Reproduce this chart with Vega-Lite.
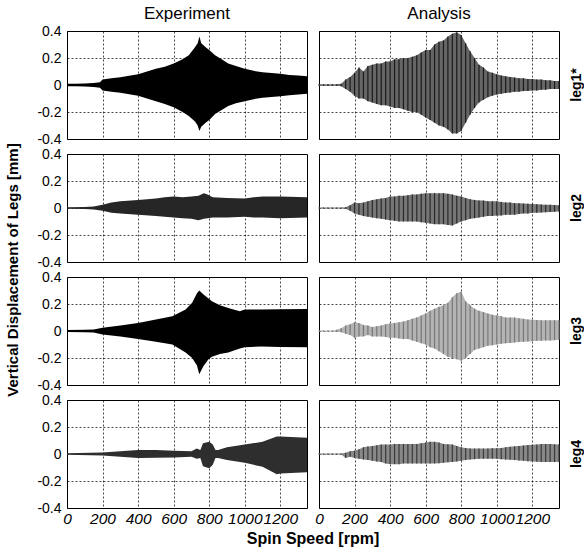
{
"$schema": "https://vega.github.io/schema/vega-lite/v6.json",
"background": "white",
"padding": {"left": 5, "top": 5, "right": 0, "bottom": 0},
"data": {"values": [
{"type":"Experiment","leg":"leg1*","rpm":0,"hi":0.01,"lo":-0.01},
{"type":"Experiment","leg":"leg1*","rpm":50,"hi":0.01,"lo":-0.01},
{"type":"Experiment","leg":"leg1*","rpm":100,"hi":0.012,"lo":-0.012},
{"type":"Experiment","leg":"leg1*","rpm":150,"hi":0.015,"lo":-0.015},
{"type":"Experiment","leg":"leg1*","rpm":185,"hi":0.02,"lo":-0.02},
{"type":"Experiment","leg":"leg1*","rpm":200,"hi":0.04,"lo":-0.04},
{"type":"Experiment","leg":"leg1*","rpm":250,"hi":0.05,"lo":-0.05},
{"type":"Experiment","leg":"leg1*","rpm":300,"hi":0.058,"lo":-0.058},
{"type":"Experiment","leg":"leg1*","rpm":350,"hi":0.068,"lo":-0.068},
{"type":"Experiment","leg":"leg1*","rpm":400,"hi":0.08,"lo":-0.08},
{"type":"Experiment","leg":"leg1*","rpm":450,"hi":0.1,"lo":-0.1},
{"type":"Experiment","leg":"leg1*","rpm":500,"hi":0.12,"lo":-0.12},
{"type":"Experiment","leg":"leg1*","rpm":550,"hi":0.135,"lo":-0.14},
{"type":"Experiment","leg":"leg1*","rpm":600,"hi":0.16,"lo":-0.165},
{"type":"Experiment","leg":"leg1*","rpm":650,"hi":0.19,"lo":-0.2},
{"type":"Experiment","leg":"leg1*","rpm":685,"hi":0.22,"lo":-0.23},
{"type":"Experiment","leg":"leg1*","rpm":720,"hi":0.28,"lo":-0.27},
{"type":"Experiment","leg":"leg1*","rpm":735,"hi":0.31,"lo":-0.3},
{"type":"Experiment","leg":"leg1*","rpm":745,"hi":0.36,"lo":-0.34},
{"type":"Experiment","leg":"leg1*","rpm":755,"hi":0.31,"lo":-0.31},
{"type":"Experiment","leg":"leg1*","rpm":780,"hi":0.28,"lo":-0.28},
{"type":"Experiment","leg":"leg1*","rpm":800,"hi":0.26,"lo":-0.26},
{"type":"Experiment","leg":"leg1*","rpm":833,"hi":0.22,"lo":-0.215},
{"type":"Experiment","leg":"leg1*","rpm":870,"hi":0.19,"lo":-0.185},
{"type":"Experiment","leg":"leg1*","rpm":907,"hi":0.16,"lo":-0.155},
{"type":"Experiment","leg":"leg1*","rpm":950,"hi":0.14,"lo":-0.135},
{"type":"Experiment","leg":"leg1*","rpm":1000,"hi":0.12,"lo":-0.12},
{"type":"Experiment","leg":"leg1*","rpm":1050,"hi":0.105,"lo":-0.105},
{"type":"Experiment","leg":"leg1*","rpm":1100,"hi":0.095,"lo":-0.095},
{"type":"Experiment","leg":"leg1*","rpm":1150,"hi":0.088,"lo":-0.088},
{"type":"Experiment","leg":"leg1*","rpm":1200,"hi":0.083,"lo":-0.083},
{"type":"Experiment","leg":"leg1*","rpm":1250,"hi":0.075,"lo":-0.075},
{"type":"Experiment","leg":"leg1*","rpm":1300,"hi":0.07,"lo":-0.07},
{"type":"Experiment","leg":"leg1*","rpm":1350,"hi":0.065,"lo":-0.065},
{"type":"Experiment","leg":"leg2","rpm":0,"hi":0.005,"lo":-0.005},
{"type":"Experiment","leg":"leg2","rpm":100,"hi":0.008,"lo":-0.008},
{"type":"Experiment","leg":"leg2","rpm":150,"hi":0.012,"lo":-0.012},
{"type":"Experiment","leg":"leg2","rpm":200,"hi":0.025,"lo":-0.02},
{"type":"Experiment","leg":"leg2","rpm":250,"hi":0.04,"lo":-0.035},
{"type":"Experiment","leg":"leg2","rpm":300,"hi":0.05,"lo":-0.04},
{"type":"Experiment","leg":"leg2","rpm":400,"hi":0.06,"lo":-0.05},
{"type":"Experiment","leg":"leg2","rpm":500,"hi":0.07,"lo":-0.06},
{"type":"Experiment","leg":"leg2","rpm":550,"hi":0.08,"lo":-0.065},
{"type":"Experiment","leg":"leg2","rpm":600,"hi":0.085,"lo":-0.07},
{"type":"Experiment","leg":"leg2","rpm":650,"hi":0.08,"lo":-0.075},
{"type":"Experiment","leg":"leg2","rpm":700,"hi":0.085,"lo":-0.08},
{"type":"Experiment","leg":"leg2","rpm":740,"hi":0.09,"lo":-0.09},
{"type":"Experiment","leg":"leg2","rpm":770,"hi":0.11,"lo":-0.08},
{"type":"Experiment","leg":"leg2","rpm":790,"hi":0.1,"lo":-0.075},
{"type":"Experiment","leg":"leg2","rpm":820,"hi":0.08,"lo":-0.07},
{"type":"Experiment","leg":"leg2","rpm":900,"hi":0.075,"lo":-0.07},
{"type":"Experiment","leg":"leg2","rpm":1000,"hi":0.07,"lo":-0.065},
{"type":"Experiment","leg":"leg2","rpm":1050,"hi":0.08,"lo":-0.07},
{"type":"Experiment","leg":"leg2","rpm":1100,"hi":0.085,"lo":-0.07},
{"type":"Experiment","leg":"leg2","rpm":1200,"hi":0.085,"lo":-0.075},
{"type":"Experiment","leg":"leg2","rpm":1350,"hi":0.08,"lo":-0.07},
{"type":"Experiment","leg":"leg3","rpm":0,"hi":0.008,"lo":-0.008},
{"type":"Experiment","leg":"leg3","rpm":100,"hi":0.01,"lo":-0.01},
{"type":"Experiment","leg":"leg3","rpm":150,"hi":0.012,"lo":-0.012},
{"type":"Experiment","leg":"leg3","rpm":200,"hi":0.025,"lo":-0.025},
{"type":"Experiment","leg":"leg3","rpm":300,"hi":0.04,"lo":-0.04},
{"type":"Experiment","leg":"leg3","rpm":400,"hi":0.06,"lo":-0.06},
{"type":"Experiment","leg":"leg3","rpm":500,"hi":0.085,"lo":-0.08},
{"type":"Experiment","leg":"leg3","rpm":593,"hi":0.11,"lo":-0.1},
{"type":"Experiment","leg":"leg3","rpm":667,"hi":0.16,"lo":-0.16},
{"type":"Experiment","leg":"leg3","rpm":704,"hi":0.21,"lo":-0.2},
{"type":"Experiment","leg":"leg3","rpm":731,"hi":0.28,"lo":-0.255},
{"type":"Experiment","leg":"leg3","rpm":744,"hi":0.3,"lo":-0.32},
{"type":"Experiment","leg":"leg3","rpm":768,"hi":0.27,"lo":-0.26},
{"type":"Experiment","leg":"leg3","rpm":796,"hi":0.24,"lo":-0.21},
{"type":"Experiment","leg":"leg3","rpm":815,"hi":0.22,"lo":-0.19},
{"type":"Experiment","leg":"leg3","rpm":860,"hi":0.19,"lo":-0.17},
{"type":"Experiment","leg":"leg3","rpm":907,"hi":0.17,"lo":-0.16},
{"type":"Experiment","leg":"leg3","rpm":972,"hi":0.146,"lo":-0.13},
{"type":"Experiment","leg":"leg3","rpm":1000,"hi":0.16,"lo":-0.12},
{"type":"Experiment","leg":"leg3","rpm":1093,"hi":0.16,"lo":-0.115},
{"type":"Experiment","leg":"leg3","rpm":1200,"hi":0.162,"lo":-0.118},
{"type":"Experiment","leg":"leg3","rpm":1350,"hi":0.163,"lo":-0.12},
{"type":"Experiment","leg":"leg4","rpm":0,"hi":0.005,"lo":-0.005},
{"type":"Experiment","leg":"leg4","rpm":200,"hi":0.012,"lo":-0.012},
{"type":"Experiment","leg":"leg4","rpm":300,"hi":0.02,"lo":-0.02},
{"type":"Experiment","leg":"leg4","rpm":400,"hi":0.03,"lo":-0.03},
{"type":"Experiment","leg":"leg4","rpm":500,"hi":0.03,"lo":-0.028},
{"type":"Experiment","leg":"leg4","rpm":600,"hi":0.025,"lo":-0.025},
{"type":"Experiment","leg":"leg4","rpm":700,"hi":0.02,"lo":-0.02},
{"type":"Experiment","leg":"leg4","rpm":730,"hi":0.04,"lo":-0.035},
{"type":"Experiment","leg":"leg4","rpm":750,"hi":0.03,"lo":-0.03},
{"type":"Experiment","leg":"leg4","rpm":765,"hi":0.08,"lo":-0.09},
{"type":"Experiment","leg":"leg4","rpm":800,"hi":0.09,"lo":-0.105},
{"type":"Experiment","leg":"leg4","rpm":820,"hi":0.07,"lo":-0.08},
{"type":"Experiment","leg":"leg4","rpm":835,"hi":0.03,"lo":-0.03},
{"type":"Experiment","leg":"leg4","rpm":850,"hi":0.03,"lo":-0.03},
{"type":"Experiment","leg":"leg4","rpm":900,"hi":0.05,"lo":-0.045},
{"type":"Experiment","leg":"leg4","rpm":1000,"hi":0.07,"lo":-0.065},
{"type":"Experiment","leg":"leg4","rpm":1100,"hi":0.09,"lo":-0.095},
{"type":"Experiment","leg":"leg4","rpm":1180,"hi":0.13,"lo":-0.15},
{"type":"Experiment","leg":"leg4","rpm":1200,"hi":0.13,"lo":-0.145},
{"type":"Experiment","leg":"leg4","rpm":1350,"hi":0.12,"lo":-0.135},
{"type":"Analysis","leg":"leg1*","rpm":0,"hi":0.005,"lo":-0.005},
{"type":"Analysis","leg":"leg1*","rpm":25,"hi":0.005,"lo":-0.005},
{"type":"Analysis","leg":"leg1*","rpm":50,"hi":0.005,"lo":-0.005},
{"type":"Analysis","leg":"leg1*","rpm":75,"hi":0.005,"lo":-0.005},
{"type":"Analysis","leg":"leg1*","rpm":100,"hi":0.006,"lo":-0.006},
{"type":"Analysis","leg":"leg1*","rpm":125,"hi":0.01,"lo":-0.01},
{"type":"Analysis","leg":"leg1*","rpm":150,"hi":0.04,"lo":-0.03},
{"type":"Analysis","leg":"leg1*","rpm":175,"hi":0.06,"lo":-0.05},
{"type":"Analysis","leg":"leg1*","rpm":200,"hi":0.09,"lo":-0.08},
{"type":"Analysis","leg":"leg1*","rpm":225,"hi":0.13,"lo":-0.1},
{"type":"Analysis","leg":"leg1*","rpm":250,"hi":0.1,"lo":-0.1},
{"type":"Analysis","leg":"leg1*","rpm":275,"hi":0.14,"lo":-0.12},
{"type":"Analysis","leg":"leg1*","rpm":300,"hi":0.15,"lo":-0.13},
{"type":"Analysis","leg":"leg1*","rpm":325,"hi":0.16,"lo":-0.14},
{"type":"Analysis","leg":"leg1*","rpm":350,"hi":0.16,"lo":-0.15},
{"type":"Analysis","leg":"leg1*","rpm":375,"hi":0.175,"lo":-0.15},
{"type":"Analysis","leg":"leg1*","rpm":400,"hi":0.175,"lo":-0.16},
{"type":"Analysis","leg":"leg1*","rpm":425,"hi":0.19,"lo":-0.17},
{"type":"Analysis","leg":"leg1*","rpm":450,"hi":0.19,"lo":-0.17},
{"type":"Analysis","leg":"leg1*","rpm":475,"hi":0.2,"lo":-0.18},
{"type":"Analysis","leg":"leg1*","rpm":500,"hi":0.2,"lo":-0.19},
{"type":"Analysis","leg":"leg1*","rpm":525,"hi":0.21,"lo":-0.2},
{"type":"Analysis","leg":"leg1*","rpm":550,"hi":0.22,"lo":-0.2},
{"type":"Analysis","leg":"leg1*","rpm":575,"hi":0.24,"lo":-0.22},
{"type":"Analysis","leg":"leg1*","rpm":600,"hi":0.26,"lo":-0.24},
{"type":"Analysis","leg":"leg1*","rpm":625,"hi":0.26,"lo":-0.26},
{"type":"Analysis","leg":"leg1*","rpm":650,"hi":0.3,"lo":-0.28},
{"type":"Analysis","leg":"leg1*","rpm":675,"hi":0.32,"lo":-0.3},
{"type":"Analysis","leg":"leg1*","rpm":700,"hi":0.33,"lo":-0.31},
{"type":"Analysis","leg":"leg1*","rpm":725,"hi":0.36,"lo":-0.33},
{"type":"Analysis","leg":"leg1*","rpm":750,"hi":0.38,"lo":-0.36},
{"type":"Analysis","leg":"leg1*","rpm":775,"hi":0.39,"lo":-0.36},
{"type":"Analysis","leg":"leg1*","rpm":800,"hi":0.37,"lo":-0.34},
{"type":"Analysis","leg":"leg1*","rpm":825,"hi":0.31,"lo":-0.28},
{"type":"Analysis","leg":"leg1*","rpm":850,"hi":0.25,"lo":-0.22},
{"type":"Analysis","leg":"leg1*","rpm":875,"hi":0.2,"lo":-0.17},
{"type":"Analysis","leg":"leg1*","rpm":900,"hi":0.15,"lo":-0.13},
{"type":"Analysis","leg":"leg1*","rpm":925,"hi":0.13,"lo":-0.11},
{"type":"Analysis","leg":"leg1*","rpm":950,"hi":0.1,"lo":-0.09},
{"type":"Analysis","leg":"leg1*","rpm":975,"hi":0.09,"lo":-0.08},
{"type":"Analysis","leg":"leg1*","rpm":1000,"hi":0.08,"lo":-0.07},
{"type":"Analysis","leg":"leg1*","rpm":1025,"hi":0.07,"lo":-0.065},
{"type":"Analysis","leg":"leg1*","rpm":1050,"hi":0.065,"lo":-0.06},
{"type":"Analysis","leg":"leg1*","rpm":1075,"hi":0.06,"lo":-0.055},
{"type":"Analysis","leg":"leg1*","rpm":1100,"hi":0.055,"lo":-0.05},
{"type":"Analysis","leg":"leg1*","rpm":1125,"hi":0.05,"lo":-0.05},
{"type":"Analysis","leg":"leg1*","rpm":1150,"hi":0.05,"lo":-0.045},
{"type":"Analysis","leg":"leg1*","rpm":1175,"hi":0.045,"lo":-0.045},
{"type":"Analysis","leg":"leg1*","rpm":1200,"hi":0.045,"lo":-0.04},
{"type":"Analysis","leg":"leg1*","rpm":1225,"hi":0.04,"lo":-0.04},
{"type":"Analysis","leg":"leg1*","rpm":1250,"hi":0.04,"lo":-0.035},
{"type":"Analysis","leg":"leg1*","rpm":1275,"hi":0.035,"lo":-0.035},
{"type":"Analysis","leg":"leg1*","rpm":1300,"hi":0.035,"lo":-0.03},
{"type":"Analysis","leg":"leg1*","rpm":1325,"hi":0.03,"lo":-0.03},
{"type":"Analysis","leg":"leg1*","rpm":1350,"hi":0.03,"lo":-0.03},
{"type":"Analysis","leg":"leg2","rpm":0,"hi":0.004,"lo":-0.004},
{"type":"Analysis","leg":"leg2","rpm":25,"hi":0.004,"lo":-0.004},
{"type":"Analysis","leg":"leg2","rpm":50,"hi":0.004,"lo":-0.004},
{"type":"Analysis","leg":"leg2","rpm":75,"hi":0.004,"lo":-0.004},
{"type":"Analysis","leg":"leg2","rpm":100,"hi":0.004,"lo":-0.004},
{"type":"Analysis","leg":"leg2","rpm":125,"hi":0.004,"lo":-0.004},
{"type":"Analysis","leg":"leg2","rpm":150,"hi":0.006,"lo":-0.006},
{"type":"Analysis","leg":"leg2","rpm":175,"hi":0.02,"lo":-0.02},
{"type":"Analysis","leg":"leg2","rpm":200,"hi":0.04,"lo":-0.04},
{"type":"Analysis","leg":"leg2","rpm":225,"hi":0.035,"lo":-0.05},
{"type":"Analysis","leg":"leg2","rpm":250,"hi":0.04,"lo":-0.06},
{"type":"Analysis","leg":"leg2","rpm":275,"hi":0.05,"lo":-0.065},
{"type":"Analysis","leg":"leg2","rpm":300,"hi":0.06,"lo":-0.07},
{"type":"Analysis","leg":"leg2","rpm":325,"hi":0.065,"lo":-0.075},
{"type":"Analysis","leg":"leg2","rpm":350,"hi":0.07,"lo":-0.08},
{"type":"Analysis","leg":"leg2","rpm":375,"hi":0.075,"lo":-0.085},
{"type":"Analysis","leg":"leg2","rpm":400,"hi":0.085,"lo":-0.09},
{"type":"Analysis","leg":"leg2","rpm":425,"hi":0.085,"lo":-0.095},
{"type":"Analysis","leg":"leg2","rpm":450,"hi":0.09,"lo":-0.1},
{"type":"Analysis","leg":"leg2","rpm":475,"hi":0.09,"lo":-0.1},
{"type":"Analysis","leg":"leg2","rpm":500,"hi":0.095,"lo":-0.1},
{"type":"Analysis","leg":"leg2","rpm":525,"hi":0.1,"lo":-0.1},
{"type":"Analysis","leg":"leg2","rpm":550,"hi":0.1,"lo":-0.1},
{"type":"Analysis","leg":"leg2","rpm":575,"hi":0.105,"lo":-0.105},
{"type":"Analysis","leg":"leg2","rpm":600,"hi":0.11,"lo":-0.11},
{"type":"Analysis","leg":"leg2","rpm":625,"hi":0.11,"lo":-0.115},
{"type":"Analysis","leg":"leg2","rpm":650,"hi":0.11,"lo":-0.12},
{"type":"Analysis","leg":"leg2","rpm":675,"hi":0.11,"lo":-0.12},
{"type":"Analysis","leg":"leg2","rpm":700,"hi":0.11,"lo":-0.12},
{"type":"Analysis","leg":"leg2","rpm":725,"hi":0.105,"lo":-0.125},
{"type":"Analysis","leg":"leg2","rpm":750,"hi":0.1,"lo":-0.13},
{"type":"Analysis","leg":"leg2","rpm":775,"hi":0.09,"lo":-0.115},
{"type":"Analysis","leg":"leg2","rpm":800,"hi":0.085,"lo":-0.1},
{"type":"Analysis","leg":"leg2","rpm":825,"hi":0.075,"lo":-0.09},
{"type":"Analysis","leg":"leg2","rpm":850,"hi":0.065,"lo":-0.08},
{"type":"Analysis","leg":"leg2","rpm":875,"hi":0.06,"lo":-0.075},
{"type":"Analysis","leg":"leg2","rpm":900,"hi":0.055,"lo":-0.07},
{"type":"Analysis","leg":"leg2","rpm":925,"hi":0.055,"lo":-0.065},
{"type":"Analysis","leg":"leg2","rpm":950,"hi":0.05,"lo":-0.06},
{"type":"Analysis","leg":"leg2","rpm":975,"hi":0.05,"lo":-0.06},
{"type":"Analysis","leg":"leg2","rpm":1000,"hi":0.05,"lo":-0.055},
{"type":"Analysis","leg":"leg2","rpm":1025,"hi":0.045,"lo":-0.055},
{"type":"Analysis","leg":"leg2","rpm":1050,"hi":0.04,"lo":-0.05},
{"type":"Analysis","leg":"leg2","rpm":1075,"hi":0.04,"lo":-0.05},
{"type":"Analysis","leg":"leg2","rpm":1100,"hi":0.036,"lo":-0.05},
{"type":"Analysis","leg":"leg2","rpm":1125,"hi":0.035,"lo":-0.045},
{"type":"Analysis","leg":"leg2","rpm":1150,"hi":0.033,"lo":-0.04},
{"type":"Analysis","leg":"leg2","rpm":1175,"hi":0.032,"lo":-0.04},
{"type":"Analysis","leg":"leg2","rpm":1200,"hi":0.03,"lo":-0.036},
{"type":"Analysis","leg":"leg2","rpm":1225,"hi":0.028,"lo":-0.035},
{"type":"Analysis","leg":"leg2","rpm":1250,"hi":0.026,"lo":-0.033},
{"type":"Analysis","leg":"leg2","rpm":1275,"hi":0.025,"lo":-0.032},
{"type":"Analysis","leg":"leg2","rpm":1300,"hi":0.024,"lo":-0.03},
{"type":"Analysis","leg":"leg2","rpm":1325,"hi":0.022,"lo":-0.028},
{"type":"Analysis","leg":"leg2","rpm":1350,"hi":0.02,"lo":-0.025},
{"type":"Analysis","leg":"leg3","rpm":0,"hi":0.004,"lo":-0.004},
{"type":"Analysis","leg":"leg3","rpm":25,"hi":0.004,"lo":-0.004},
{"type":"Analysis","leg":"leg3","rpm":50,"hi":0.004,"lo":-0.004},
{"type":"Analysis","leg":"leg3","rpm":75,"hi":0.004,"lo":-0.004},
{"type":"Analysis","leg":"leg3","rpm":100,"hi":0.01,"lo":-0.005},
{"type":"Analysis","leg":"leg3","rpm":125,"hi":0.02,"lo":-0.01},
{"type":"Analysis","leg":"leg3","rpm":150,"hi":0.04,"lo":-0.02},
{"type":"Analysis","leg":"leg3","rpm":175,"hi":0.05,"lo":-0.03},
{"type":"Analysis","leg":"leg3","rpm":200,"hi":0.065,"lo":-0.05},
{"type":"Analysis","leg":"leg3","rpm":225,"hi":0.06,"lo":-0.04},
{"type":"Analysis","leg":"leg3","rpm":250,"hi":0.045,"lo":-0.04},
{"type":"Analysis","leg":"leg3","rpm":275,"hi":0.04,"lo":-0.03},
{"type":"Analysis","leg":"leg3","rpm":300,"hi":0.03,"lo":-0.04},
{"type":"Analysis","leg":"leg3","rpm":325,"hi":0.035,"lo":-0.04},
{"type":"Analysis","leg":"leg3","rpm":350,"hi":0.04,"lo":-0.04},
{"type":"Analysis","leg":"leg3","rpm":375,"hi":0.05,"lo":-0.045},
{"type":"Analysis","leg":"leg3","rpm":400,"hi":0.055,"lo":-0.05},
{"type":"Analysis","leg":"leg3","rpm":425,"hi":0.06,"lo":-0.05},
{"type":"Analysis","leg":"leg3","rpm":450,"hi":0.065,"lo":-0.055},
{"type":"Analysis","leg":"leg3","rpm":475,"hi":0.07,"lo":-0.06},
{"type":"Analysis","leg":"leg3","rpm":500,"hi":0.08,"lo":-0.06},
{"type":"Analysis","leg":"leg3","rpm":525,"hi":0.09,"lo":-0.07},
{"type":"Analysis","leg":"leg3","rpm":550,"hi":0.1,"lo":-0.08},
{"type":"Analysis","leg":"leg3","rpm":575,"hi":0.115,"lo":-0.09},
{"type":"Analysis","leg":"leg3","rpm":600,"hi":0.13,"lo":-0.1},
{"type":"Analysis","leg":"leg3","rpm":625,"hi":0.15,"lo":-0.12},
{"type":"Analysis","leg":"leg3","rpm":650,"hi":0.165,"lo":-0.13},
{"type":"Analysis","leg":"leg3","rpm":675,"hi":0.18,"lo":-0.15},
{"type":"Analysis","leg":"leg3","rpm":700,"hi":0.19,"lo":-0.17},
{"type":"Analysis","leg":"leg3","rpm":725,"hi":0.21,"lo":-0.19},
{"type":"Analysis","leg":"leg3","rpm":750,"hi":0.25,"lo":-0.2},
{"type":"Analysis","leg":"leg3","rpm":775,"hi":0.28,"lo":-0.21},
{"type":"Analysis","leg":"leg3","rpm":800,"hi":0.29,"lo":-0.22},
{"type":"Analysis","leg":"leg3","rpm":825,"hi":0.22,"lo":-0.2},
{"type":"Analysis","leg":"leg3","rpm":850,"hi":0.19,"lo":-0.17},
{"type":"Analysis","leg":"leg3","rpm":875,"hi":0.165,"lo":-0.14},
{"type":"Analysis","leg":"leg3","rpm":900,"hi":0.15,"lo":-0.13},
{"type":"Analysis","leg":"leg3","rpm":925,"hi":0.14,"lo":-0.12},
{"type":"Analysis","leg":"leg3","rpm":950,"hi":0.13,"lo":-0.11},
{"type":"Analysis","leg":"leg3","rpm":975,"hi":0.12,"lo":-0.105},
{"type":"Analysis","leg":"leg3","rpm":1000,"hi":0.115,"lo":-0.1},
{"type":"Analysis","leg":"leg3","rpm":1025,"hi":0.11,"lo":-0.095},
{"type":"Analysis","leg":"leg3","rpm":1050,"hi":0.1,"lo":-0.09},
{"type":"Analysis","leg":"leg3","rpm":1075,"hi":0.1,"lo":-0.088},
{"type":"Analysis","leg":"leg3","rpm":1100,"hi":0.1,"lo":-0.085},
{"type":"Analysis","leg":"leg3","rpm":1125,"hi":0.095,"lo":-0.082},
{"type":"Analysis","leg":"leg3","rpm":1150,"hi":0.09,"lo":-0.08},
{"type":"Analysis","leg":"leg3","rpm":1175,"hi":0.085,"lo":-0.078},
{"type":"Analysis","leg":"leg3","rpm":1200,"hi":0.083,"lo":-0.075},
{"type":"Analysis","leg":"leg3","rpm":1225,"hi":0.082,"lo":-0.073},
{"type":"Analysis","leg":"leg3","rpm":1250,"hi":0.08,"lo":-0.072},
{"type":"Analysis","leg":"leg3","rpm":1275,"hi":0.08,"lo":-0.07},
{"type":"Analysis","leg":"leg3","rpm":1300,"hi":0.08,"lo":-0.07},
{"type":"Analysis","leg":"leg3","rpm":1325,"hi":0.08,"lo":-0.068},
{"type":"Analysis","leg":"leg3","rpm":1350,"hi":0.08,"lo":-0.065},
{"type":"Analysis","leg":"leg4","rpm":0,"hi":0.003,"lo":-0.003},
{"type":"Analysis","leg":"leg4","rpm":25,"hi":0.003,"lo":-0.003},
{"type":"Analysis","leg":"leg4","rpm":50,"hi":0.003,"lo":-0.003},
{"type":"Analysis","leg":"leg4","rpm":75,"hi":0.003,"lo":-0.003},
{"type":"Analysis","leg":"leg4","rpm":100,"hi":0.003,"lo":-0.003},
{"type":"Analysis","leg":"leg4","rpm":125,"hi":0.003,"lo":-0.003},
{"type":"Analysis","leg":"leg4","rpm":150,"hi":0.01,"lo":-0.03},
{"type":"Analysis","leg":"leg4","rpm":175,"hi":0.02,"lo":-0.02},
{"type":"Analysis","leg":"leg4","rpm":200,"hi":0.025,"lo":-0.03},
{"type":"Analysis","leg":"leg4","rpm":225,"hi":0.035,"lo":-0.035},
{"type":"Analysis","leg":"leg4","rpm":250,"hi":0.05,"lo":-0.04},
{"type":"Analysis","leg":"leg4","rpm":275,"hi":0.055,"lo":-0.045},
{"type":"Analysis","leg":"leg4","rpm":300,"hi":0.06,"lo":-0.05},
{"type":"Analysis","leg":"leg4","rpm":325,"hi":0.065,"lo":-0.055},
{"type":"Analysis","leg":"leg4","rpm":350,"hi":0.07,"lo":-0.06},
{"type":"Analysis","leg":"leg4","rpm":375,"hi":0.07,"lo":-0.07},
{"type":"Analysis","leg":"leg4","rpm":400,"hi":0.07,"lo":-0.075},
{"type":"Analysis","leg":"leg4","rpm":425,"hi":0.075,"lo":-0.075},
{"type":"Analysis","leg":"leg4","rpm":450,"hi":0.075,"lo":-0.075},
{"type":"Analysis","leg":"leg4","rpm":475,"hi":0.075,"lo":-0.07},
{"type":"Analysis","leg":"leg4","rpm":500,"hi":0.075,"lo":-0.07},
{"type":"Analysis","leg":"leg4","rpm":525,"hi":0.075,"lo":-0.07},
{"type":"Analysis","leg":"leg4","rpm":550,"hi":0.075,"lo":-0.07},
{"type":"Analysis","leg":"leg4","rpm":575,"hi":0.08,"lo":-0.07},
{"type":"Analysis","leg":"leg4","rpm":600,"hi":0.085,"lo":-0.07},
{"type":"Analysis","leg":"leg4","rpm":625,"hi":0.09,"lo":-0.07},
{"type":"Analysis","leg":"leg4","rpm":650,"hi":0.09,"lo":-0.07},
{"type":"Analysis","leg":"leg4","rpm":675,"hi":0.085,"lo":-0.068},
{"type":"Analysis","leg":"leg4","rpm":700,"hi":0.075,"lo":-0.065},
{"type":"Analysis","leg":"leg4","rpm":725,"hi":0.072,"lo":-0.062},
{"type":"Analysis","leg":"leg4","rpm":750,"hi":0.07,"lo":-0.06},
{"type":"Analysis","leg":"leg4","rpm":775,"hi":0.06,"lo":-0.055},
{"type":"Analysis","leg":"leg4","rpm":800,"hi":0.05,"lo":-0.05},
{"type":"Analysis","leg":"leg4","rpm":825,"hi":0.045,"lo":-0.045},
{"type":"Analysis","leg":"leg4","rpm":850,"hi":0.04,"lo":-0.04},
{"type":"Analysis","leg":"leg4","rpm":875,"hi":0.04,"lo":-0.038},
{"type":"Analysis","leg":"leg4","rpm":900,"hi":0.04,"lo":-0.035},
{"type":"Analysis","leg":"leg4","rpm":925,"hi":0.04,"lo":-0.035},
{"type":"Analysis","leg":"leg4","rpm":950,"hi":0.041,"lo":-0.035},
{"type":"Analysis","leg":"leg4","rpm":975,"hi":0.042,"lo":-0.035},
{"type":"Analysis","leg":"leg4","rpm":1000,"hi":0.042,"lo":-0.035},
{"type":"Analysis","leg":"leg4","rpm":1025,"hi":0.045,"lo":-0.038},
{"type":"Analysis","leg":"leg4","rpm":1050,"hi":0.05,"lo":-0.04},
{"type":"Analysis","leg":"leg4","rpm":1075,"hi":0.053,"lo":-0.042},
{"type":"Analysis","leg":"leg4","rpm":1100,"hi":0.057,"lo":-0.045},
{"type":"Analysis","leg":"leg4","rpm":1125,"hi":0.06,"lo":-0.048},
{"type":"Analysis","leg":"leg4","rpm":1150,"hi":0.063,"lo":-0.05},
{"type":"Analysis","leg":"leg4","rpm":1175,"hi":0.066,"lo":-0.053},
{"type":"Analysis","leg":"leg4","rpm":1200,"hi":0.068,"lo":-0.055},
{"type":"Analysis","leg":"leg4","rpm":1225,"hi":0.07,"lo":-0.058},
{"type":"Analysis","leg":"leg4","rpm":1250,"hi":0.075,"lo":-0.06},
{"type":"Analysis","leg":"leg4","rpm":1275,"hi":0.075,"lo":-0.06},
{"type":"Analysis","leg":"leg4","rpm":1300,"hi":0.075,"lo":-0.06},
{"type":"Analysis","leg":"leg4","rpm":1325,"hi":0.072,"lo":-0.06},
{"type":"Analysis","leg":"leg4","rpm":1350,"hi":0.07,"lo":-0.06}
]},
"facet": {
  "row": {"field": "leg", "type": "nominal", "sort": ["leg1*","leg2","leg3","leg4"],
    "header": {"title": "Vertical Displacement of Legs [mm]", "titleOrient": "left", "titleFontSize": 15, "titleFontWeight": "bold", "titleFont": "Liberation Sans", "titleColor": "black", "titlePadding": 5,
      "labelOrient": "right", "labelAngle": -90, "labelFontSize": 14, "labelFontWeight": "bold", "labelFont": "Liberation Sans", "labelColor": "black", "labelPadding": 2}},
  "column": {"field": "type", "type": "nominal", "sort": ["Experiment","Analysis"],
    "header": {"title": "Spin Speed [rpm]", "titleOrient": "bottom", "titleFontSize": 16, "titleFontWeight": "bold", "titleFont": "Liberation Sans", "titleColor": "black", "titlePadding": -6,
      "labelOrient": "top", "labelFontSize": 17, "labelFont": "Liberation Sans", "labelColor": "black", "labelPadding": 7}}
},
"spacing": {"row": 13, "column": 8},
"spec": {
  "width": 240, "height": 108,
  "layer": [
    {"transform": [{"filter": "datum.type == 'Experiment'"}],
     "mark": {"type": "area", "opacity": 1, "interpolate": "linear"},
     "encoding": {
       "x": {"field": "rpm", "type": "quantitative", "scale": {"domain": [0, 1350], "nice": false}},
       "y": {"field": "hi", "type": "quantitative", "scale": {"domain": [-0.4, 0.4], "nice": false}},
       "y2": {"field": "lo"},
       "color": {"field": "leg", "type": "nominal", "legend": null, "scale": {"domain": ["leg1*","leg2","leg3","leg4"], "range": ["#000000","#262626","#000000","#2e2e2e"]}}
     }},
    {"transform": [{"filter": "datum.type == 'Analysis'"}],
     "mark": {"type": "area", "opacity": 1},
     "encoding": {
       "x": {"field": "rpm", "type": "quantitative"},
       "y": {"field": "hi", "type": "quantitative"},
       "y2": {"field": "lo"},
       "color": {"field": "leg", "type": "nominal", "legend": null, "scale": {"domain": ["leg1*","leg2","leg3","leg4"], "range": ["#666666","#777777","#b4b4b4","#888888"]}}
     }},
    {"transform": [{"filter": "datum.type == 'Analysis'"}],
     "mark": {"type": "rule", "strokeWidth": 1.2},
     "encoding": {
       "x": {"field": "rpm", "type": "quantitative"},
       "y": {"field": "hi", "type": "quantitative"},
       "y2": {"field": "lo"},
       "color": {"field": "leg", "type": "nominal", "legend": null, "scale": {"domain": ["leg1*","leg2","leg3","leg4"], "range": ["#1a1a1a","#2a2a2a","#777777","#3a3a3a"]}}
     }}
  ],
  "resolve": {"scale": {"color": "independent"}}
},
"config": {
  "view": {"stroke": "black", "strokeWidth": 1},
  "font": "Liberation Sans",
  "axis": {"domain": false, "ticks": false, "grid": true, "gridColor": "black", "gridDash": [2, 2], "gridOpacity": 0.9, "gridWidth": 0.8, "labelColor": "black", "labelFont": "Liberation Sans", "title": null},
  "axisX": {"values": [0, 200, 400, 600, 800, 1000, 1200], "format": "d", "labelFontSize": 15.5, "labelFontStyle": "italic", "labelFlush": false, "labelOverlap": false, "labelPadding": 2},
  "axisY": {"values": [-0.4, -0.2, 0, 0.2, 0.4], "labelFontSize": 14, "labelPadding": 5, "labelExpr": "datum.value == 0 ? '0' : (datum.value < 0 ? '-' : '') + format(abs(datum.value), '.1f')"}
}
}
